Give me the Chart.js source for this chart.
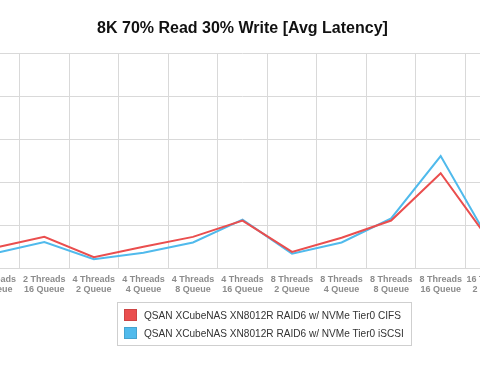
<!DOCTYPE html>
<html>
<head>
<meta charset="utf-8">
<script src="https://cdn.jsdelivr.net/npm/chart.js@4"></script>
<style>
    html, body { margin: 0; padding: 0; background: #fff; overflow: hidden; }
    body { width: 480px; height: 378px; position: relative; font-family: "Liberation Sans", Arial, Helvetica, sans-serif; }
    #wrap { position: absolute; left: -52px; top: 0; width: 600px; height: 306px; }
    #legend {
        position: absolute; left: 117px; top: 302px; width: 293px;
        border: 1px solid #cfcfcf; padding: 3px 0 3px 0; font-size: 10.1px; color: #333;
        white-space: nowrap;
    }
    .item { display: flex; align-items: center; height: 18px; padding-left: 6px; }
    .swatch { width: 13px; height: 12px; margin-right: 7px; box-sizing: border-box; border: 1px solid rgba(0,0,0,0.12); flex: none; }
</style>
</head>
<body>
<div id="wrap"><canvas id="latency"></canvas></div>
<div id="legend"></div>
<script>
const threads = ['2 Threads', '2 Threads', '4 Threads', '4 Threads', '4 Threads', '4 Threads',
    '8 Threads', '8 Threads', '8 Threads', '8 Threads', '16 Threads'];
const queues = ['8 Queue', '16 Queue', '2 Queue', '4 Queue', '8 Queue', '16 Queue',
    '2 Queue', '4 Queue', '8 Queue', '16 Queue', '2 Queue'];

const dataCIFS = [0.48, 0.73, 0.26, 0.50, 0.73, 1.11, 0.38, 0.71, 1.11, 2.21, 0.62];
const dataISCSI = [0.35, 0.61, 0.21, 0.36, 0.60, 1.13, 0.34, 0.60, 1.16, 2.61, 0.60];

const labels = threads.map((t, i) => [t, queues[i]]);

const chartData = {
    labels,
    datasets: [
        {
            label: 'QSAN XCubeNAS XN8012R RAID6 w/ NVMe Tier0 CIFS',
            backgroundColor: 'rgb(234, 78, 78)',
            borderColor: 'rgb(234, 78, 78)',
            data: dataCIFS
        },
        {
            label: 'QSAN XCubeNAS XN8012R RAID6 w/ NVMe Tier0 iSCSI',
            backgroundColor: 'rgb(80, 186, 236)',
            borderColor: 'rgb(80, 186, 236)',
            data: dataISCSI
        }
    ]
};

const chartConfig = {
    type: 'line',
    data: chartData,
    options: {
        animation: false,
        responsive: true,
        maintainAspectRatio: false,
        layout: {
            padding: { left: 22, right: 33, top: 9, bottom: 5 }
        },
        elements: {
            line: { borderWidth: 2, tension: 0 },
            point: { radius: 0 }
        },
        scales: {
            x: {
                offset: true,
                grid: { offset: true, color: '#d9d9d9', drawTicks: false },
                border: { color: '#d9d9d9' },
                ticks: {
                    padding: 6,
                    maxRotation: 0,
                    autoSkip: false,
                    color: '#8c8c8c',
                    font: { family: '"Liberation Sans", Arial, sans-serif', size: 9, weight: 'bold', lineHeight: 1.15 }
                }
            },
            y: {
                min: 0,
                max: 5,
                grid: { color: '#d9d9d9', drawTicks: false },
                border: { display: false },
                ticks: { display: false, stepSize: 1 }
            }
        },
        plugins: {
            legend: { display: false },
            tooltip: { enabled: false },
            title: {
                display: true,
                text: '8K 70% Read 30% Write [Avg Latency]',
                color: '#111',
                padding: { top: 10, bottom: 15 },
                font: { family: '"Liberation Sans", Arial, sans-serif', size: 16, weight: 'bold' }
            }
        }
    }
};

const chart = new Chart(document.querySelector('#latency'), chartConfig);

const legendBox = document.querySelector('#legend');
chartData.datasets.forEach(ds => {
    const row = document.createElement('div');
    row.className = 'item';
    const sw = document.createElement('span');
    sw.className = 'swatch';
    sw.style.background = ds.backgroundColor;
    const txt = document.createElement('span');
    txt.textContent = ds.label;
    row.appendChild(sw);
    row.appendChild(txt);
    legendBox.appendChild(row);
});
</script>
</body>
</html>
